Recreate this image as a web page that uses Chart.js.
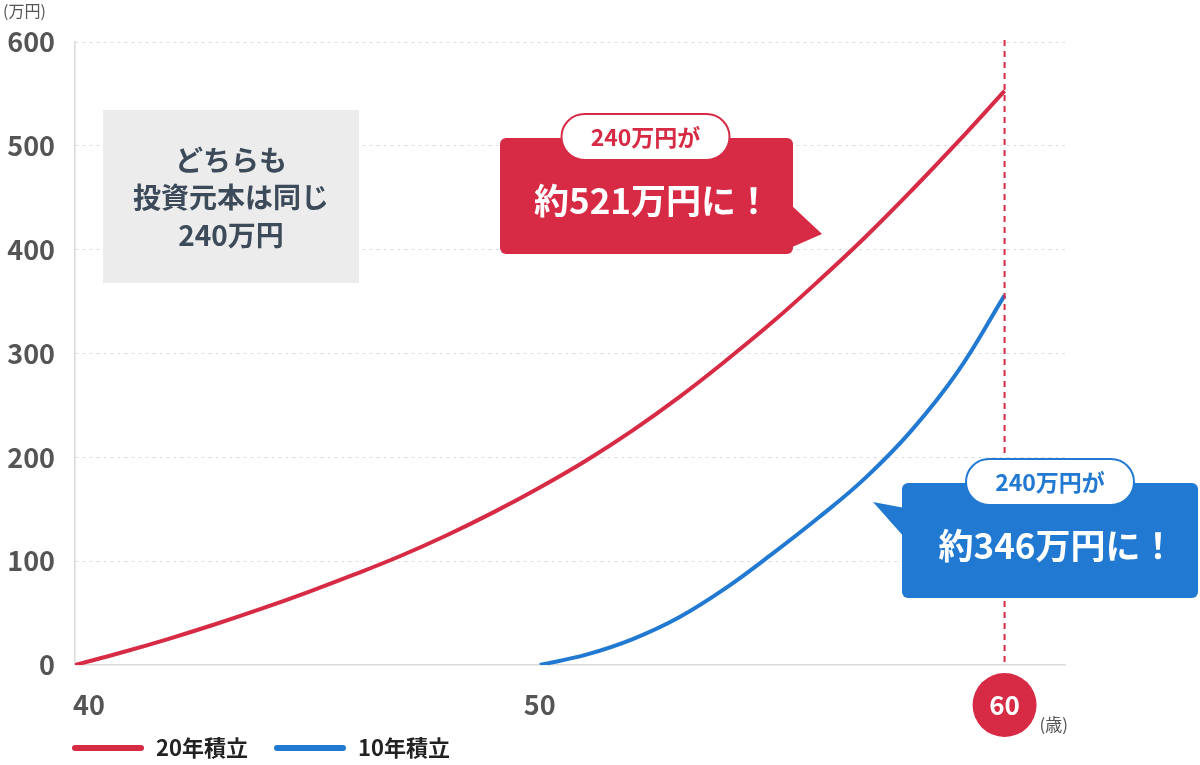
<!DOCTYPE html>
<html lang="ja">
<head>
<meta charset="utf-8">
<script src="https://cdn.jsdelivr.net/npm/chart.js@4/dist/chart.umd.min.js"></script>
<style>
  html, body { margin: 0; padding: 0; background: #fff; }
  #wrap { width: 1200px; height: 765px; }
</style>
</head>
<body>
<div id="wrap"><canvas id="chart" width="1200" height="765"></canvas></div>
<script>
// ==== Data ====
const ages20 = [40, 41, 42, 43, 44, 45, 46, 47, 48, 49, 50, 51, 52, 53, 54, 55, 56, 57, 58, 59, 60];
const values20 = [0, 12, 25, 39, 54, 70, 87, 105, 125, 147, 171, 197, 226, 258, 293, 330, 370, 412, 457, 504, 553];
const ages10 = [50, 51, 52, 53, 54, 55, 56, 57, 58, 59, 60];
const values10 = [0, 10, 25, 46, 74, 107, 142, 180, 226, 283, 356];
const xTicks = [40, 50, 60];
const yTicks = [0, 100, 200, 300, 400, 500, 600];
const seriesNames = ['20年積立', '10年積立'];

const RED = '#d72b45';
const BLUE = '#2279d2';
const FONT = '"Noto Sans CJK JP", "Noto Sans", sans-serif';

function toPoints(xs, ys) {
  return xs.map((x, i) => ({ x: x, y: ys[i] }));
}

function roundRect(ctx, x, y, w, h, r) {
  ctx.beginPath();
  ctx.moveTo(x + r, y);
  ctx.lineTo(x + w - r, y);
  ctx.arcTo(x + w, y, x + w, y + r, r);
  ctx.lineTo(x + w, y + h - r);
  ctx.arcTo(x + w, y + h, x + w - r, y + h, r);
  ctx.lineTo(x + r, y + h);
  ctx.arcTo(x, y + h, x, y + h - r, r);
  ctx.lineTo(x, y + r);
  ctx.arcTo(x, y, x + r, y, r);
  ctx.closePath();
}

// speech bubble with white pill on top
function drawCallout(ctx, c) {
  ctx.save();
  ctx.fillStyle = c.color;
  roundRect(ctx, c.x, c.y, c.w, c.h, 6);
  ctx.fill();
  ctx.beginPath();
  ctx.moveTo(c.tail[0][0], c.tail[0][1]);
  ctx.lineTo(c.tail[1][0], c.tail[1][1]);
  ctx.lineTo(c.tail[2][0], c.tail[2][1]);
  ctx.closePath();
  ctx.fill();

  const pw = 168, ph = 46;
  const px = c.x + c.w / 2 - pw / 2 + (c.pillShift || 0);
  const py = c.y - 24;
  roundRect(ctx, px, py, pw, ph, ph / 2);
  ctx.fillStyle = '#fff';
  ctx.fill();
  ctx.lineWidth = 2;
  ctx.strokeStyle = c.color;
  ctx.stroke();

  ctx.textAlign = 'center';
  ctx.textBaseline = 'middle';
  ctx.fillStyle = c.color;
  ctx.font = 'bold 23px ' + FONT;
  ctx.fillText('240万円が', px + pw / 2, py + ph / 2);
  ctx.fillStyle = '#fff';
  ctx.font = 'bold 35px ' + FONT;
  ctx.fillText(c.text, px + pw / 2 + 7, c.textY);
  ctx.restore();
}

// ==== Extra drawing: 60 marker, boxes, legend ====
const decorPlugin = {
  id: 'decor',
  afterDraw(chart) {
    const ctx = chart.ctx;
    const xs = chart.scales.x;
    const area = chart.chartArea;
    const x60 = xs.getPixelForValue(60);

    // dashed line at 60
    ctx.save();
    ctx.strokeStyle = RED;
    ctx.lineWidth = 2;
    ctx.setLineDash([6, 5]);
    ctx.beginPath();
    ctx.moveTo(x60, area.top - 2);
    ctx.lineTo(x60, area.bottom);
    ctx.stroke();
    ctx.restore();

    // x tick labels
    ctx.save();
    ctx.fillStyle = '#555';
    ctx.font = 'bold 27px ' + FONT;
    ctx.textBaseline = 'middle';
    xTicks.forEach(v => {
      const px = xs.getPixelForValue(v);
      if (v === 60) {
        ctx.beginPath();
        ctx.arc(px, 705, 32, 0, Math.PI * 2);
        ctx.fillStyle = RED;
        ctx.fill();
        ctx.fillStyle = '#fff';
        ctx.font = 'bold 26px ' + FONT;
        ctx.textAlign = 'center';
        ctx.fillText(String(v), px, 705);
        ctx.fillStyle = '#555';
      } else if (v === xTicks[0]) {
        ctx.textAlign = 'left';
        ctx.fillText(String(v), px - 2, 705);
      } else {
        ctx.textAlign = 'center';
        ctx.fillText(String(v), px, 705);
      }
    });
    ctx.font = '17px ' + FONT;
    ctx.textAlign = 'left';
    ctx.fillText('(歳)', x60 + 35, 725);
    ctx.font = '16px ' + FONT;
    ctx.fillText('(万円)', 3, 11);
    ctx.restore();

    // gray info box
    ctx.save();
    ctx.fillStyle = '#ececec';
    ctx.fillRect(103, 110, 256, 173);
    ctx.fillStyle = '#3c4a5a';
    ctx.font = 'bold 28px ' + FONT;
    ctx.textAlign = 'center';
    ctx.textBaseline = 'middle';
    ctx.fillText('どちらも', 231, 160);
    ctx.fillText('投資元本は同じ', 231, 197);
    ctx.fillText('240万円', 231, 235);
    ctx.restore();

    drawCallout(ctx, {
      color: RED, x: 500, y: 138, w: 293, h: 116,
      tail: [[790, 204], [822, 234], [790, 248]],
      text: '約521万円に！', textY: 201, pillShift: -1
    });
    drawCallout(ctx, {
      color: BLUE, x: 902, y: 483, w: 296, h: 115,
      tail: [[905, 508], [873, 502], [905, 538]],
      text: '約346万円に！', textY: 546, pillShift: 0
    });

    // legend
    ctx.save();
    ctx.lineCap = 'round';
    ctx.lineWidth = 6;
    const legendY = 748;
    [[RED, 75, 0], [BLUE, 277, 1]].forEach(([col, lx, i]) => {
      ctx.strokeStyle = col;
      ctx.beginPath();
      ctx.moveTo(lx, legendY);
      ctx.lineTo(lx + 66, legendY);
      ctx.stroke();
      ctx.fillStyle = '#222';
      ctx.font = 'bold 22px ' + FONT;
      ctx.textAlign = 'left';
      ctx.textBaseline = 'middle';
      ctx.fillText(seriesNames[i], lx + 81, legendY);
    });
    ctx.restore();
  }
};

new Chart(document.getElementById('chart'), {
  type: 'line',
  data: {
    datasets: [
      {
        label: seriesNames[0],
        data: toPoints(ages20, values20),
        borderColor: RED,
        borderWidth: 4,
        pointRadius: 0,
        tension: 0.4,
        fill: false
      },
      {
        label: seriesNames[1],
        data: toPoints(ages10, values10),
        borderColor: BLUE,
        borderWidth: 4,
        pointRadius: 0,
        tension: 0.4,
        fill: false
      }
    ]
  },
  options: {
    responsive: false,
    animation: false,
    layout: { padding: { top: 42, right: 135, left: 0, bottom: 0 } },
    plugins: { legend: { display: false }, tooltip: { enabled: false } },
    scales: {
      x: {
        type: 'linear',
        min: 40,
        max: 61.3,
        afterBuildTicks: s => { s.ticks = xTicks.map(v => ({ value: v })); },
        afterFit: s => { s.height = 100; },
        grid: { display: false },
        border: { display: true, color: '#d9d9d9', width: 1.5 },
        ticks: { display: false }
      },
      y: {
        min: 0,
        max: 600,
        afterBuildTicks: s => { s.ticks = yTicks.map(v => ({ value: v })); },
        afterFit: s => { s.width = 75; },
        grid: {
          color: '#dcdcdc',
          drawTicks: false,
          lineWidth: c => (c.tick.value === 0 ? 0 : 1)
        },
        border: { display: true, color: '#d9d9d9', width: 1.5, dash: [3, 4] },
        ticks: {
          padding: 20,
          color: '#555',
          font: { family: FONT, size: 27, weight: 'bold' }
        }
      }
    }
  },
  plugins: [decorPlugin]
});
</script>
</body>
</html>
